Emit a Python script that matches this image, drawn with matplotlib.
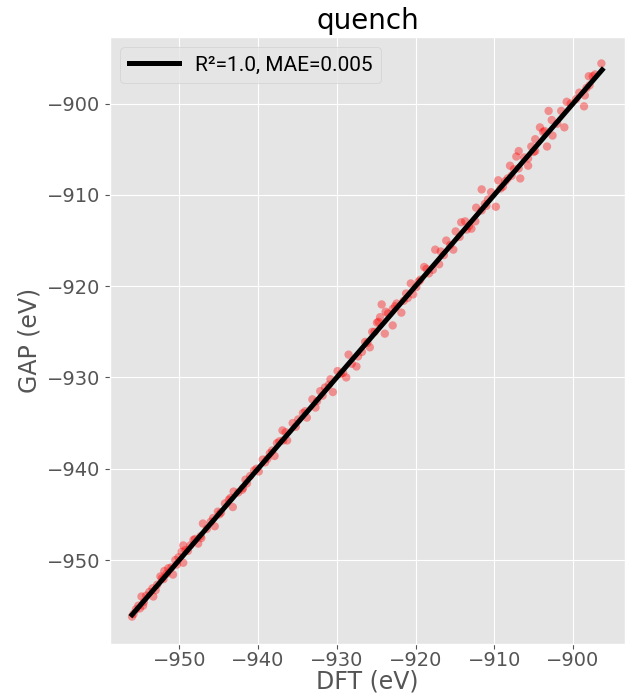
import numpy as np
import matplotlib
matplotlib.use("Agg")
import matplotlib.pyplot as plt

plt.style.use("ggplot")

# DFT vs GAP energies (eV)
dft = [
    -896.4, -898.0, -897.5, -897.9, -899.2, -898.5, -898.6, -900.8, -903.1, -902.7,
    -901.1, -904.2, -903.8, -902.6, -904.8, -903.3, -905.3, -906.9, -907.2, -905.7,
    -908.0, -905.7, -906.9, -906.7, -908.3, -909.5, -908.9, -911.6, -910.4, -911.0,
    -912.3, -909.8, -913.7, -912.4, -912.9, -914.9, -916.1,
    -924.3, -923.8, -922.4, -921.8, -924.7, -922.9, -925.2, -923.9, -925.8, -928.5,
    -927.3, -927.5, -928.8, -930.8, -930.5, -932.1, -931.5, -933.1, -932.7, -934.3,
    -935.6, -936.9, -936.3, -937.6,
    -941.4, -941.9, -943.1, -944.2, -943.2, -945.1, -945.7, -947.0, -945.5, -947.2,
    -947.6, -949.5, -948.6, -949.7, -950.5, -949.5, -951.4, -950.8, -952.4, -952.0,
    -953.4, -953.3, -954.8, -954.6, -955.0, -956.0,
    -916.8, -917.5, -917.0, -918.3, -918.9, -919.4, -919.9, -920.6, -920.3, -921.2,
    -921.5, -915.6, -914.2, -915.2,
    -938.2, -938.8, -939.4, -939.9, -940.5, -941.0, -937.9, -936.5, -934.9, -933.8,
    -929.5, -929.9, -926.4, -926.8, -924.9, -922.9,
    -897.2, -899.6, -901.5, -902.0, -904.8, -906.2, -907.8, -908.6, -910.8, -911.6,
    -913.2, -914.4,
    -955.5, -954.2, -953.8, -952.8, -951.9, -951.0, -950.1, -948.9, -948.2, -946.5,
    -946.0, -944.7, -943.7, -942.5,
    -955.8, -955.2, -954.5, -953.0, -952.2, -951.6, -950.3, -949.2, -948.0, -947.3,
    -944.9, -943.5, -942.0, -941.6, -940.2, -939.1, -938.5, -937.3, -936.8, -935.2,
    -934.0, -932.5, -931.8, -931.0, -929.2, -928.1, -926.1, -925.5, -924.5, -923.5,
    -922.6, -921.0, -919.6, -918.6, -917.8, -916.4, -913.5, -911.2, -909.2, -907.5,
    -905.0, -903.6, -900.3, -898.3,
]
gap = [
    -895.6, -897.0, -897.0, -898.0, -898.8, -899.1, -900.3, -899.8, -900.8, -901.8,
    -902.6, -902.6, -903.1, -903.5, -903.9, -904.7, -904.7, -905.2, -905.8, -906.0,
    -906.8, -906.8, -907.1, -908.2, -908.2, -908.4, -909.1, -909.4, -909.7, -911.2,
    -911.4, -911.3, -912.9, -912.9, -913.7, -914.0, -915.0,
    -922.0, -922.8, -921.9, -922.9, -923.9, -924.3, -925.0, -925.2, -926.7, -927.5,
    -927.7, -928.8, -930.0, -930.2, -931.6, -931.5, -931.1, -932.4, -933.3, -933.9,
    -935.0, -935.8, -936.9, -937.2,
    -941.6, -942.1, -942.5, -943.8, -944.2, -944.7, -945.4, -946.0, -946.3, -947.6,
    -948.2, -948.4, -948.4, -949.1, -950.0, -950.3, -950.9, -951.6, -951.8, -952.1,
    -953.1, -954.0, -954.0, -955.0, -955.3, -956.2,
    -916.2, -916.0, -917.6, -918.6, -917.9, -919.3, -920.1, -919.7, -920.9, -920.8,
    -921.6, -915.5, -913.0, -916.0,
    -938.0, -938.9, -939.0, -940.3, -940.2, -940.8, -938.6, -936.0, -934.6, -934.4,
    -929.6, -929.3, -926.1, -927.2, -924.0, -922.5,
    -896.8, -899.5, -900.8, -902.2, -905.2, -905.9, -907.9, -908.5, -910.5, -911.7,
    -913.4, -914.6,
    -955.4, -953.9, -953.5, -952.7, -951.2, -950.8, -949.7, -949.0, -947.8, -946.6,
    -945.8, -944.8, -943.4, -942.6,
    -955.9, -955.0, -954.6, -953.3, -952.0, -951.5, -950.5, -948.9, -947.7, -947.4,
    -945.0, -943.2, -942.3, -941.2, -940.0, -939.3, -938.3, -937.0, -936.9, -935.4,
    -933.7, -932.6, -932.0, -930.8, -929.5, -928.5, -926.2, -925.0, -923.4, -923.0,
    -922.2, -921.3, -919.5, -918.1, -918.2, -916.6, -913.8, -911.0, -909.3, -907.2,
    -905.3, -903.0, -900.0, -898.3,
]
fit_range = [-956.0, -896.3]
r2 = 1.0
mae = 0.005

fig = plt.figure(figsize=(6.27, 6.95), dpi=100)
ax = fig.add_axes([0.1754, 0.0734, 0.8214, 0.8734])

ax.scatter(dft, gap, s=36, color="red", alpha=0.38, edgecolors="none", zorder=2)
ax.plot(fit_range, fit_range, color="black", lw=3.6, zorder=3,
        label=f"R²={r2}, MAE={mae}")

ax.set_xlim(-958.8, -893.4)
ax.set_ylim(-959.2, -892.7)
ax.set_xticks(np.arange(-950, -899, 10))
ax.set_yticks(np.arange(-950, -899, 10))
ax.tick_params(labelsize=14)
ax.tick_params(axis="x", pad=1.5)

ax.set_title("quench", fontsize=20, color="black")
ax.set_xlabel("DFT (eV)", fontsize=17, labelpad=0)
ax.set_ylabel("GAP (eV)", fontsize=17)

ax.legend(loc="upper left", handlelength=2.4,
          prop={"family": ["Roboto", "DejaVu Sans"], "size": 15})

fig.savefig("out.png", dpi=100)
